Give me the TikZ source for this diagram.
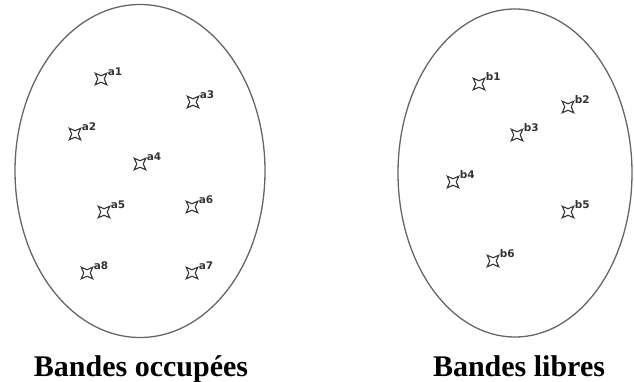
\documentclass[tikz,border=0pt]{standalone}
\usepackage{fontspec}
\setmainfont{Liberation Serif}
\newfontfamily\lblfont{DejaVu Sans}
\usepackage{tikz}
\usetikzlibrary{shapes.geometric,positioning}

\begin{document}
\begin{tikzpicture}[x=1pt,y=-1pt,
  band/.style={ellipse,draw=gray!80!black,line width=1.3pt,inner sep=0pt},
  pt/.style={star,star points=4,star point ratio=0.4,draw=black!80,line width=1.1pt,minimum size=6.5pt,inner sep=0pt},
  lbl/.style={font=\lblfont\bfseries\fontsize{10.5}{11}\selectfont,text=black!80,inner sep=0pt,label distance=2pt},
  caption/.style={font=\bfseries\fontsize{30}{32}\selectfont,inner sep=0pt}]
  \useasboundingbox (0,0) rectangle (634,382);
  \node[band,minimum width=250pt,minimum height=333pt] (occ) at (140,171) {};
  \node[band,minimum width=234pt,minimum height=328pt] (lib) at (515,173) {};
  % bandes occupees
  \node[pt,label={[lbl]25:a1}] (a1) at (101,79) {};
  \node[pt,label={[lbl]25:a2}] (a2) at (75,134) {};
  \node[pt,label={[lbl]25:a3}] (a3) at (193,102) {};
  \node[pt,label={[lbl]25:a4}] (a4) at (140,164) {};
  \node[pt,label={[lbl]25:a5}] (a5) at (104,212) {};
  \node[pt,label={[lbl]25:a6}] (a6) at (192,207) {};
  \node[pt,label={[lbl]25:a7}] (a7) at (192,273) {};
  \node[pt,label={[lbl]25:a8}] (a8) at (87,273) {};
  % bandes libres
  \node[pt,label={[lbl]25:b1}] (b1) at (479,84) {};
  \node[pt,label={[lbl]25:b2}] (b2) at (568,107) {};
  \node[pt,label={[lbl]25:b3}] (b3) at (517,135) {};
  \node[pt,label={[lbl]25:b4}] (b4) at (453,182) {};
  \node[pt,label={[lbl]25:b5}] (b5) at (568,212) {};
  \node[pt,label={[lbl]25:b6}] (b6) at (493,261) {};
  \node[caption,anchor=base] (occtxt) at (141,376) {Bandes occupées};
  \node[caption,anchor=base] (libtxt) at (519,376) {Bandes libres};
\end{tikzpicture}
\end{document}
